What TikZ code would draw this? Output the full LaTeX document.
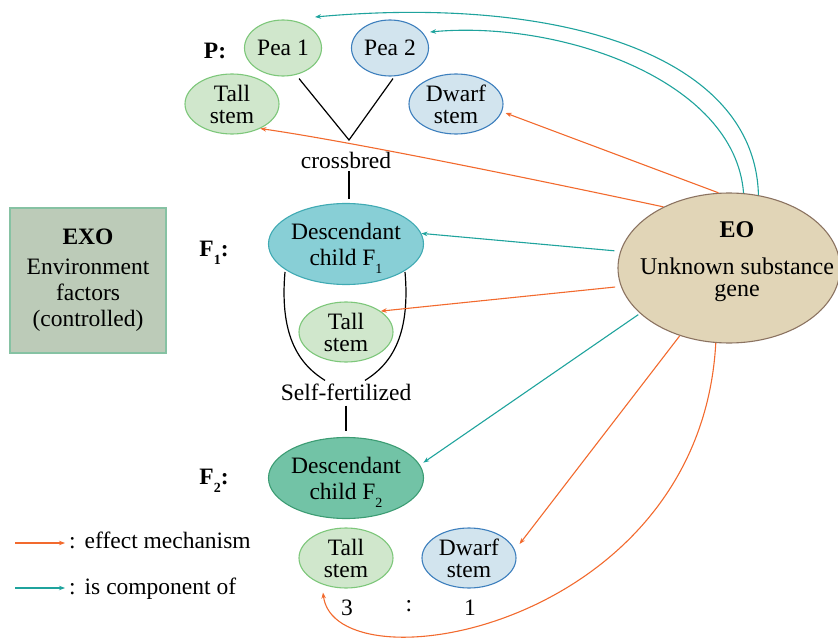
\documentclass[tikz,border=0pt]{standalone}
\usepackage{fontspec}
\setmainfont{Liberation Serif}
\usetikzlibrary{shapes.geometric,arrows.meta,calc}

\definecolor{compline}{HTML}{1FA39D}
\definecolor{effline}{HTML}{F26A2E}
\definecolor{tallfill}{HTML}{D0E7CC}
\definecolor{talldraw}{HTML}{7DC77A}
\definecolor{dwarffill}{HTML}{D2E4EE}
\definecolor{dwarfdraw}{HTML}{3D7FBD}
\definecolor{fonefill}{HTML}{88CFD6}
\definecolor{fonedraw}{HTML}{40AAB3}
\definecolor{ftwofill}{HTML}{72C3A6}
\definecolor{ftwodraw}{HTML}{3C9C73}
\definecolor{eofill}{HTML}{E1D5B7}
\definecolor{eodraw}{HTML}{8B7361}
\definecolor{exofill}{HTML}{BCCBB8}
\definecolor{exodraw}{HTML}{86C2A3}

% lowered small index, as in F_1
\newcommand\lowidx[1]{\raisebox{-8pt}[0pt][0pt]{\fontsize{14}{14}\selectfont #1}}

\begin{document}
\begin{tikzpicture}[x=1pt,y=-1pt,
  txt/.style={font=\fontsize{23.5}{25}\selectfont, inner sep=0pt, align=center},
  lbl/.style={font=\fontsize{23.5}{25}\selectfont\bfseries, inner sep=0pt},
  oval/.style={ellipse, line width=1.1pt, inner sep=0pt, align=center},
  stemov/.style={oval, font=\fontsize{23.5}{22}\selectfont, minimum width=94pt, minimum height=60pt},
  tallov/.style={stemov, fill=tallfill, draw=talldraw},
  dwarfov/.style={stemov, fill=dwarffill, draw=dwarfdraw},
  peaov/.style={oval, font=\fontsize{23.5}{25}\selectfont, minimum width=77pt, minimum height=56pt},
  childov/.style={oval, font=\fontsize{23.5}{26}\selectfont, minimum width=150pt, minimum height=81pt},
  link/.style={draw=black, line width=1.2pt},
  eff/.style={draw=effline, line width=1.1pt, -{Stealth[length=6pt,width=4.5pt]}},
  comp/.style={draw=compline, line width=1.1pt, -{Stealth[length=6pt,width=4.5pt]}}
]
\useasboundingbox (0,0) rectangle (838,639);

% parents
\node[peaov, fill=tallfill, draw=talldraw] (pea1) at (283,48) {Pea 1};
\node[peaov, fill=dwarffill, draw=dwarfdraw] (pea2) at (390,48) {Pea 2};
\node[tallov] (tallP) at (232,104) {Tall\\stem};
\node[dwarfov] (dwarfP) at (456,104) {Dwarf\\stem};
\node[lbl] (lblP) at (215,51) {P:};

% crossing
\node[txt] (cb) at (346,160) {crossbred};
\coordinate (vx) at (349,140);
\coordinate (p1v) at ($(pea1.south)+(16,2)$);
\coordinate (p2v) at ($(pea2.south)+(3,2)$);
\draw[link] (p1v) -- (vx) -- (p2v);

% first generation
\node[childov, fill=fonefill, draw=fonedraw] (F1) at (346,244) {Descendant\\child F\lowidx{1}};
\node[lbl] (lblF1) at (214,249) {F\lowidx{1}:};
\draw[link] ($(cb.south)+(3,3)$) -- ($(F1.north)+(3,-4)$);
\node[tallov] (tallF1) at (346,332) {Tall\\stem};

% selfing
\node[txt] (sf) at (346,392) {Self-fertilized};
\coordinate (aL) at ($(F1.center)+(-61,28)$);
\coordinate (aR) at ($(F1.center)+(59,28)$);
\draw[link] (aL) .. controls (279,340) and (302,366) .. ($(sf.north)+(-21,-3)$);
\draw[link] (aR) .. controls (411,340) and (388,366) .. ($(sf.north)+(19,-3)$);

% second generation
\node[childov, fill=ftwofill, draw=ftwodraw] (F2) at (346,478) {Descendant\\child F\lowidx{2}};
\node[lbl] (lblF2) at (214,477) {F\lowidx{2}:};
\draw[link] ($(sf.south)+(0,5)$) -- ($(F2.north)+(0,-6)$);
\node[tallov] (tallF2) at (346,558) {Tall\\stem};
\node[dwarfov] (dwarfF2) at (469,558) {Dwarf\\stem};
\node[txt] (three) at (347,608) {3};
\node[txt] (colon) at (409,606) {:};
\node[txt] (one) at (470,608) {1};

% environment box
\node[draw=exodraw, fill=exofill, line width=1.1pt, minimum width=156pt, minimum height=145pt,
      font=\fontsize{23.5}{26}\selectfont, align=center, inner sep=0pt] (exo) at (88,280.5)
  {\textbf{EXO}\\[4pt]Environment\\factors\\(controlled)};

% unknown factor
\node[ellipse, fill=eofill, draw=eodraw, line width=1.1pt, minimum width=222pt, minimum height=150pt] (EO) at (729,268) {};
\node[font=\fontsize{24}{22}\selectfont, align=center, inner sep=0pt] (eotxt) at (737,262)
  {\textbf{EO}\\[15pt]Unknown substance\\gene};

% is component of
\draw[comp] (EO.68) .. controls (755,55) and (560,-5) .. ($(pea1.center)+(32,-31)$);
\draw[comp] (EO.79) .. controls (735,80) and (560,20) .. ($(pea2.center)+(40,-16)$);
\draw[comp] ($(EO.171)+(-6,0)$) -- (F1.8);
\draw[comp] ($(EO.208)+(-3,0)$) -- ($(F2.12)+(5,0)$);

% effect mechanism
\draw[eff] (EO.98) -- ($(dwarfP.east)+(2,9)$);
\draw[eff] (EO.137) .. controls (500,172) and (340,140) .. (tallP.-41);
\draw[eff] ($(EO.190)+(-6,0)$) -- (tallF1.31);
\draw[eff] (EO.234) -- ($(dwarfF2.east)+(3,-14)$);
\draw[eff] (EO.260) .. controls (700,630) and (335,690) .. ($(tallF2.south)+(-23,4)$);

% legend
\coordinate (lg1) at (15,543);
\coordinate (lg2) at (15,588);
\node[txt, anchor=base west] (lgt1) at (69,548) {:\hspace{9pt}effect mechanism};
\node[txt, anchor=base west] (lgt2) at (69,594) {:\hspace{9pt}is component of};
\draw[eff] (lg1) -- ($(lg1 -| lgt1.west)+(-4,0)$);
\draw[comp] (lg2) -- ($(lg2 -| lgt2.west)+(-4,0)$);
\end{tikzpicture}
\end{document}
